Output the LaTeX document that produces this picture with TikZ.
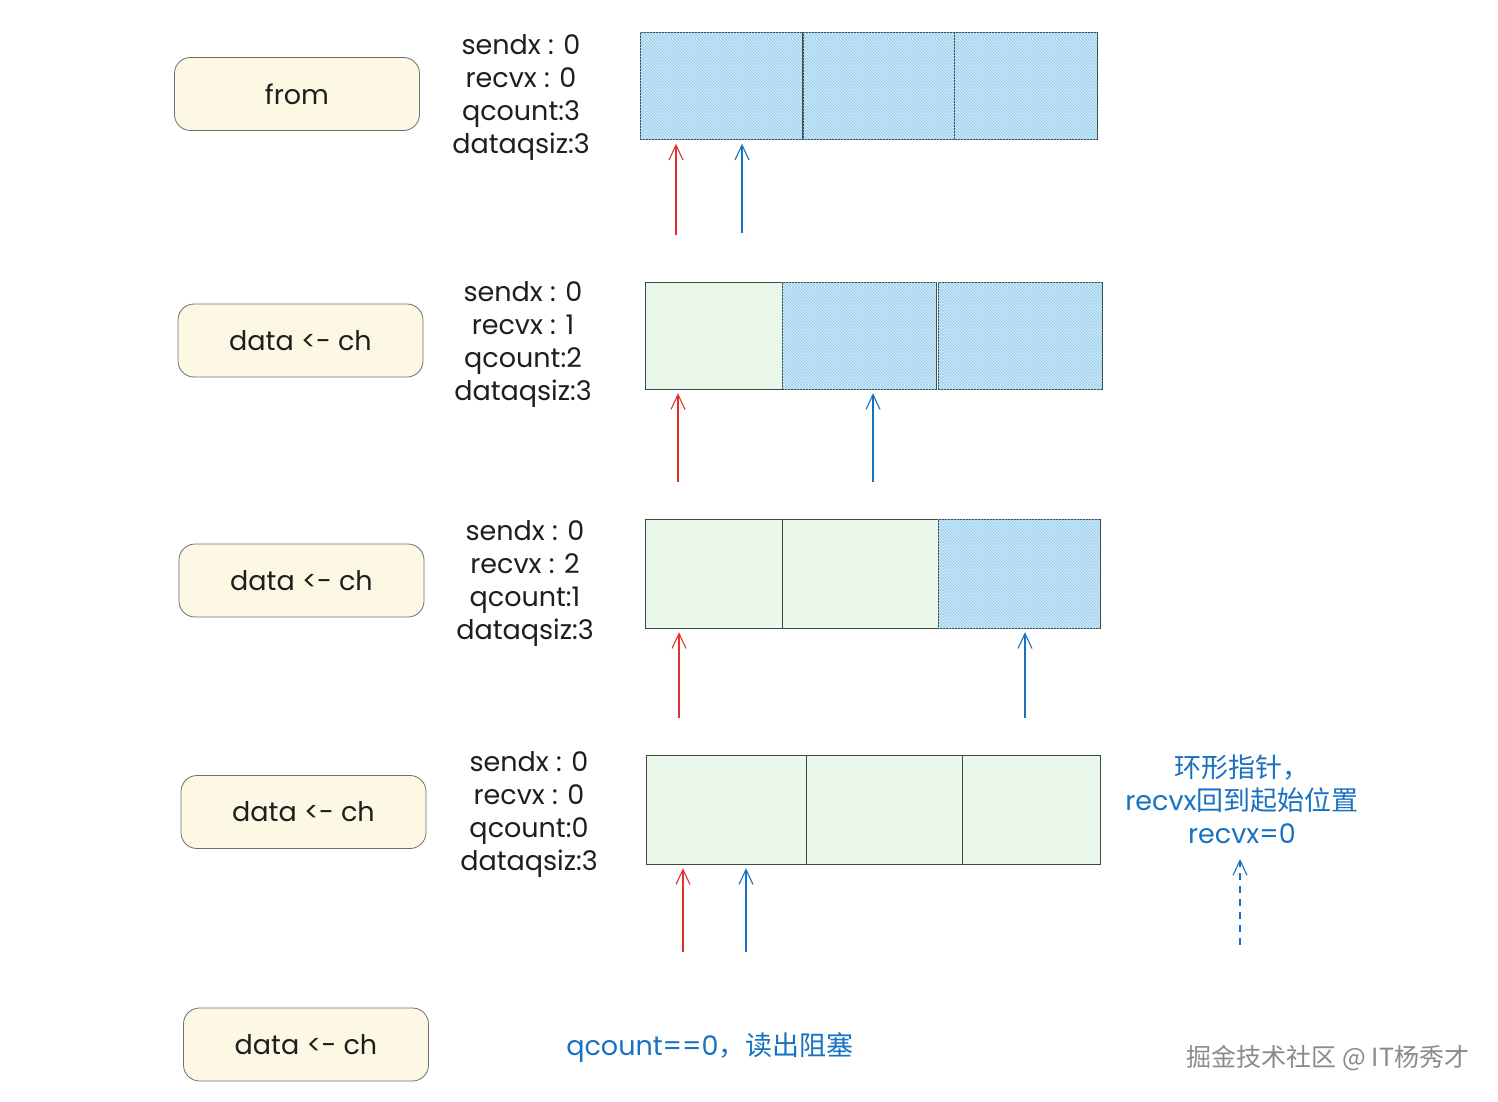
\documentclass[tikz,border=0pt]{standalone}
\usepackage{fontspec}
\setmainfont{Poppins}
\newfontfamily\cjk{Noto Sans CJK SC}
\usetikzlibrary{arrows.meta,positioning,patterns}
\definecolor{ink}{HTML}{1E1E1E}
\definecolor{boxfill}{HTML}{FCF8E3}
\definecolor{boxline}{HTML}{6E6E6E}
\definecolor{cellline}{HTML}{3F4A45}
\definecolor{fullfill}{HTML}{CDEBF8}
\definecolor{fullline}{HTML}{8CC4EA}
\definecolor{emptyfill}{HTML}{EAF8EC}
\definecolor{sendred}{HTML}{E03131}
\definecolor{recvblue}{HTML}{1971C2}
\definecolor{markgray}{HTML}{8A8A8A}

\begin{document}
\begin{tikzpicture}[x=1pt,y=-1pt,
        >={Straight Barb[length=15pt,width=14pt]},
        every node/.style={font=\fontsize{27}{33}\selectfont, text=ink},
        opbox/.style={draw=boxline, fill=boxfill, rounded corners=16pt,
            minimum width=245, minimum height=73, line width=0.8pt},
        stats/.style={align=center},
        cellfull/.style={draw=cellline, fill=fullfill, inner sep=0pt,
            postaction={pattern=north west lines, pattern color=fullline}},
        cellempty/.style={draw=cellline, fill=emptyfill, inner sep=0pt},
        sendptr/.style={->, draw=sendred, line width=1.1pt, shorten >=4pt},
        recvptr/.style={->, draw=recvblue, line width=1.1pt, shorten >=4pt},
        note/.style={text=recvblue, align=center},
        ]
        \useasboundingbox (0,0) rectangle (1498,1102);

        % step 0: buffer full
        \node[opbox]                    (op0) at (297,94)      {from};
        \node[stats]                    (st0) at (521,98)      {sendx : 0\\recvx : 0\\qcount:3\\dataqsiz:3};
        \node[cellfull, minimum width=162, minimum height=107] (b0a) at (721,86)    {};
        \node[cellfull, minimum width=151, minimum height=107] (b0b) at (878.5,86)  {};
        \node[cellfull, minimum width=143, minimum height=107] (b0c) at (1025.5,86) {};
        \coordinate (s0) at (676,235);
        \coordinate (r0) at (742,233);
        \draw[sendptr] (s0) -- (s0 |- b0a.south);
        \draw[recvptr] (r0) -- (r0 |- b0a.south);

        % step 1
        \node[opbox]                    (op1) at (300.5,340.5) {data <- ch};
        \node[stats]                    (st1) at (523,345)     {sendx : 0\\recvx : 1\\qcount:2\\dataqsiz:3};
        \node[cellempty, minimum width=137, minimum height=107] (b1a) at (713.5,335.5) {};
        \node[cellfull,  minimum width=154, minimum height=107] (b1b) at (859,335.5)   {};
        \node[cellfull,  minimum width=164, minimum height=107] (b1c) at (1020,335.5)  {};
        \coordinate (s1) at (678,482);
        \coordinate (r1) at (873,482);
        \draw[sendptr] (s1) -- (s1 |- b1a.south);
        \draw[recvptr] (r1) -- (r1 |- b1b.south);

        % step 2
        \node[opbox]                    (op2) at (301.5,580.5) {data <- ch};
        \node[stats]                    (st2) at (525,584)     {sendx : 0\\recvx : 2\\qcount:1\\dataqsiz:3};
        \node[cellempty, minimum width=137, minimum height=109] (b2a) at (713.5,573.5) {};
        \node[cellempty, minimum width=156, minimum height=109] (b2b) at (860,573.5)   {};
        \node[cellfull,  minimum width=162, minimum height=109] (b2c) at (1019,573.5)  {};
        \coordinate (s2) at (679,718);
        \coordinate (r2) at (1025,718);
        \draw[sendptr] (s2) -- (s2 |- b2a.south);
        \draw[recvptr] (r2) -- (r2 |- b2c.south);

        % step 3: buffer empty
        \node[opbox]                    (op3) at (303.5,812)   {data <- ch};
        \node[stats]                    (st3) at (529,815)     {sendx : 0\\recvx : 0\\qcount:0\\dataqsiz:3};
        \node[cellempty, minimum width=160, minimum height=109] (b3a) at (726,809.5)  {};
        \node[cellempty, minimum width=156, minimum height=109] (b3b) at (884,809.5)  {};
        \node[cellempty, minimum width=138, minimum height=109] (b3c) at (1031,809.5) {};
        \coordinate (s3) at (683,952);
        \coordinate (r3) at (746,952);
        \draw[sendptr] (s3) -- (s3 |- b3a.south);
        \draw[recvptr] (r3) -- (r3 |- b3a.south);
        \node[note]                     (wrap) at (1242,799)   {{\cjk 环形指针，}\\recvx{\cjk 回到起始位置}\\recvx=0};
        \coordinate (w0) at (1240,945);
        \draw[recvptr, dash pattern=on 7pt off 6pt, shorten >=12pt] (w0) -- (wrap.south -| w0);

        % step 4: blocked
        \node[opbox]                    (op4) at (306,1044.5)  {data <- ch};
        \node[note]                     (blk) at (710,1048)    {qcount==0{\cjk ，读出阻塞}};
        \node[text=markgray, font=\fontsize{25}{30}\selectfont] (mark) at (1328,1058) {\cjk 掘金技术社区 @ IT杨秀才};
\end{tikzpicture}
\end{document}
